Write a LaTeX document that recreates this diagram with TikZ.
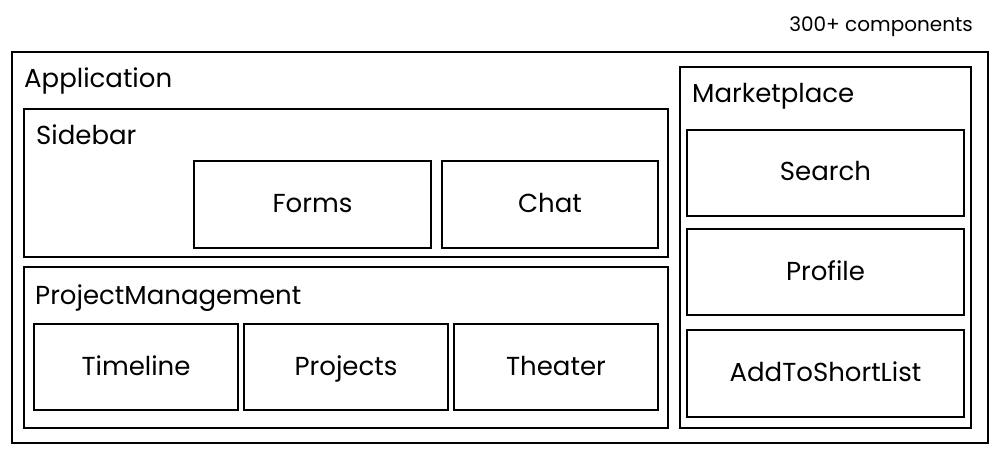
\documentclass[tikz,border=0pt]{standalone}
\usepackage{fontspec}
\setmainfont{Poppins}
\tikzset{
  bx/.style={draw=black, line width=2.8pt, rectangle, inner sep=0pt, outer sep=0pt,
    font=\fontsize{26}{30}\selectfont, text height=16pt, text depth=0pt},
  ttl/.style={anchor=base west, inner sep=0pt, font=\fontsize{26}{30}\selectfont},
}
\newcommand{\bxnode}[6]{%
  \node[bx, minimum width={#4-#2}, minimum height={#5-#3}] (#1) at ({(#2+#4)/2},{(#3+#5)/2}) {#6};}
\begin{document}
\begin{tikzpicture}[x=1pt,y=-1pt]
\useasboundingbox (0,0) rectangle (1000,454);
\bxnode{app}{12}{52}{988}{443}{}
\bxnode{side}{24}{109}{668}{257}{}
\bxnode{forms}{194}{161}{431}{248}{Forms}
\bxnode{chat}{442}{161}{658}{248}{Chat}
\bxnode{pm}{24}{267}{668}{428}{}
\bxnode{timeline}{34}{324}{238}{410}{Timeline}
\bxnode{projects}{244}{324}{448}{410}{Projects}
\bxnode{theater}{454}{324}{658}{410}{Theater}
\bxnode{market}{680}{67}{971}{428}{}
\bxnode{search}{687}{130}{964}{216}{Search}
\bxnode{profile}{687}{229}{964}{315}{Profile}
\bxnode{short}{687}{330}{964}{417}{AddToShortList}
\node[ttl] (tapp) at (24,87.5) {Application};
\node[ttl] (tside) at (36,145) {Sidebar};
\node[ttl] (tpm) at (35,304) {ProjectManagement};
\node[ttl] (tmarket) at (692,103) {Marketplace};
\node[anchor=base east, inner sep=0pt, font=\fontsize{20}{24}\selectfont] (count) at (973,32) {300+ components};
\end{tikzpicture}
\end{document}
